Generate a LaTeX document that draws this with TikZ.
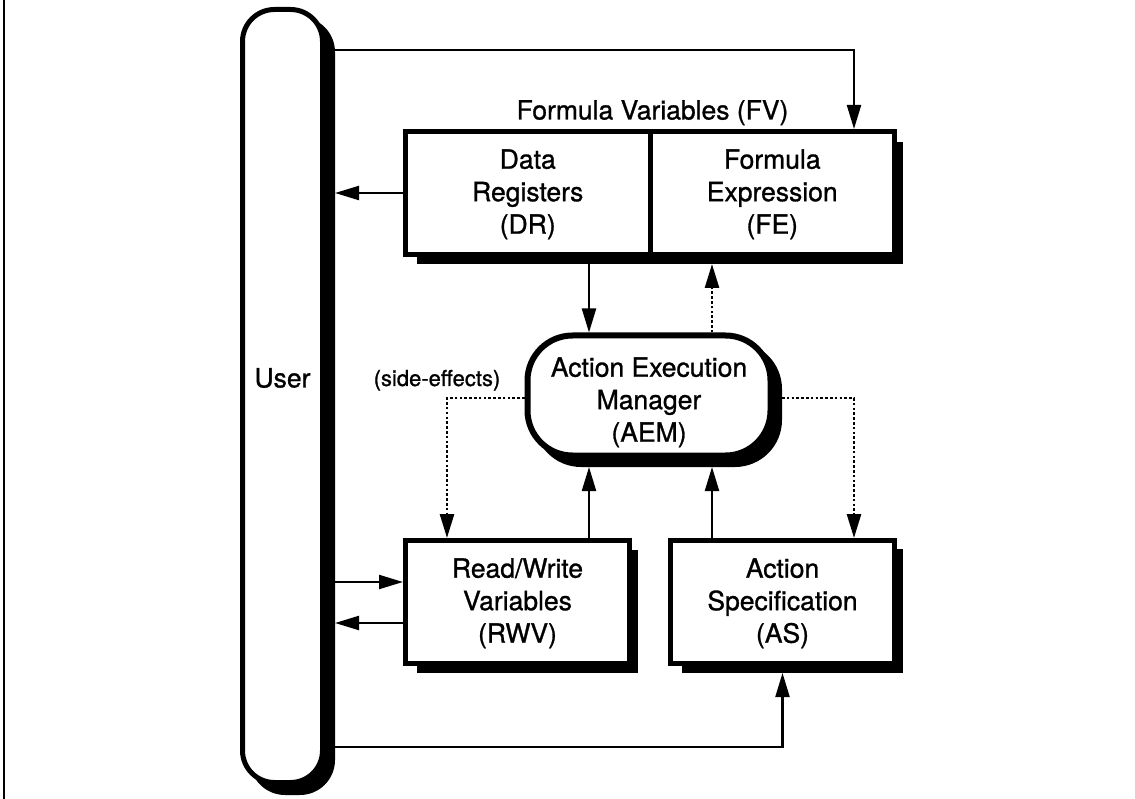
\documentclass[tikz,border=0pt]{standalone}
\usepackage{fontspec}
\setmainfont{TeX Gyre Heros}[FakeBold=1]
\usetikzlibrary{arrows.meta}
\newcommand\boxfont{\fontsize{26.5pt}{32.5pt}\selectfont}
\newcommand\notefont{\fontsize{22pt}{26pt}\selectfont}
% invisible strut that sets the height of a first text line
\newcommand\firstline[1]{\rule{0pt}{#1}}
\begin{document}
\begin{tikzpicture}[x=1pt,y=-1pt,
  shade/.style={fill=black, draw=none, inner sep=0pt, outer sep=0pt},
  boxnode/.style={draw=black, fill=white, line width=5pt, inner sep=0pt,
    align=center, font=\boxfont},
  arr/.style={line width=2.2pt, -{Triangle[length=24pt,width=14pt]}},
  dotarr/.style={arr, line width=2.6pt, dash pattern=on 2.6pt off 2.2pt}]
\useasboundingbox (0,0) rectangle (1135,799);

% frame rule on the left
\draw[line width=1.5pt] (4,0) -- (4,799);

% drop shadows
\node[shade, minimum width=486pt, minimum height=122pt] (fvsh) at (660,203) {};
\node[shade, minimum width=221pt, minimum height=123pt] (rwvsh) at (527.5,611.5) {};
\node[shade, minimum width=221pt, minimum height=124pt] (assh) at (792.5,611) {};
\node[shade, rounded corners=47pt, minimum width=248pt, minimum height=125pt] (aemsh) at (658,404.5) {};
\node[shade, rounded corners=35pt, minimum width=85pt, minimum height=778pt] (usersh) at (292.5,406) {};

% boxes
\node[boxnode, minimum width=244.5pt, minimum height=123pt] (dr) at (527.75,193) {\firstline{22pt}Data\\Registers\\(DR)};
\node[boxnode, minimum width=244.5pt, minimum height=123pt] (fe) at (772.25,193) {\firstline{22pt}Formula\\Expression\\(FE)};
\node[boxnode, minimum width=224pt, minimum height=123pt] (rwv) at (517.5,602) {\firstline{22pt}Read/Write\\Variables\\(RWV)};
\node[boxnode, minimum width=224pt, minimum height=123pt] (as) at (782.5,602) {\firstline{22pt}Action\\Specification\\(AS)};
\node[boxnode, line width=6pt, rounded corners=45pt, minimum width=243pt, minimum height=120pt] (aem) at (649,395.5) {\firstline{33pt}Action Execution\\Manager\\(AEM)};
\node[boxnode, rounded corners=32pt, minimum width=80pt, minimum height=773pt,
  label={[font=\boxfont, yshift=18pt]center:User}] (user) at (282.5,396) {};

% labels
\node[font=\boxfont, anchor=base] (fvlabel) at (652.5,119.5) {Formula Variables (FV)};
\node[font=\notefont, anchor=base] (selabel) at (437,386) {(side-effects)};

% connector columns and rows
\coordinate (colA) at (589,0);
\coordinate (colB) at (712,0);
\coordinate (colC) at (854,0);
\coordinate (colD) at (447,0);
\coordinate (rowT) at (0,50);
\coordinate (rowS) at (0,398);
\coordinate (rowIn) at (0,582);
\coordinate (rowOut) at (0,623);
\coordinate (rowB) at (0,747);

% connectors
\draw[arr] (usersh.east |- rowT) -| (fe.north -| colC);
\draw[arr] (dr.west) -- (dr.west -| usersh.east);
\draw[arr] (dr.south -| colA) -- (aem.north -| colA);
\draw[dotarr] (aem.north -| colB) -- (fvsh.south -| colB);
\draw[arr] (rwv.north -| colA) -- (aemsh.south -| colA);
\draw[arr] (as.north -| colB) -- (aemsh.south -| colB);
\draw[dotarr] (aem.west |- rowS) -| (rwv.north -| colD);
\draw[dotarr] (aemsh.east |- rowS) -| (as.north -| colC);
\draw[arr] (usersh.east |- rowIn) -- (rwv.west |- rowIn);
\draw[arr] (rwv.west |- rowOut) -- (usersh.east |- rowOut);
\draw[arr] (usersh.east |- rowB) -| (assh.south -| as.south);
\end{tikzpicture}
\end{document}
